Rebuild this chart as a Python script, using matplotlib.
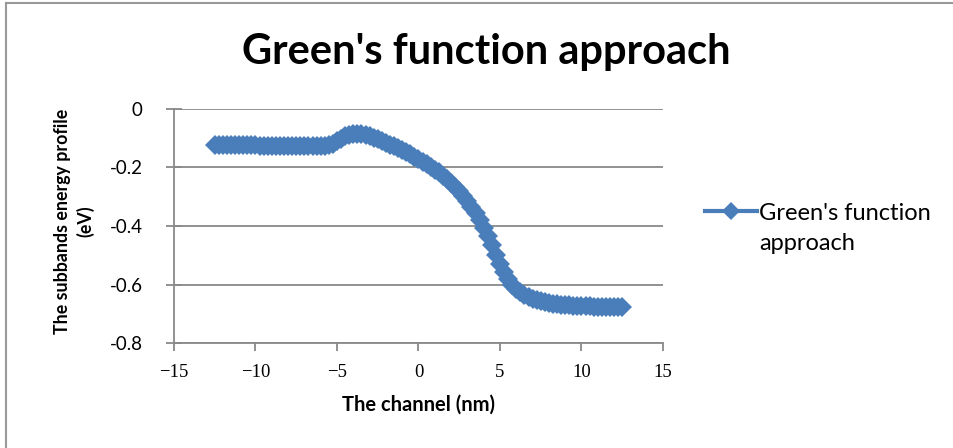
import matplotlib
matplotlib.use("Agg")
import matplotlib.pyplot as plt
import numpy as np
from matplotlib.lines import Line2D

# subband energy profile along the channel (eV), uniform 0.25 nm grid from -12.5 to 12.5 nm
energy_ev = [
    -0.123, -0.123, -0.123, -0.123, -0.124, -0.124, -0.124, -0.124, -0.124, -0.124,
    -0.124, -0.125, -0.125, -0.125, -0.125, -0.125, -0.126, -0.126, -0.126, -0.126,
    -0.127, -0.127, -0.127, -0.128, -0.128, -0.128, -0.128, -0.127, -0.124, -0.118,
    -0.110, -0.101, -0.094, -0.089, -0.087, -0.086, -0.087, -0.090, -0.094, -0.099,
    -0.104, -0.110, -0.116, -0.122, -0.128, -0.134, -0.141, -0.148, -0.155, -0.163,
    -0.172, -0.180, -0.189, -0.198, -0.207, -0.217, -0.228, -0.240, -0.253, -0.266,
    -0.281, -0.297, -0.315, -0.334, -0.356, -0.380, -0.406, -0.433, -0.466, -0.500,
    -0.530, -0.558, -0.582, -0.601, -0.616, -0.627, -0.636, -0.643, -0.649, -0.653,
    -0.657, -0.660, -0.663, -0.665, -0.667, -0.669, -0.670, -0.671, -0.672, -0.673,
    -0.674, -0.675, -0.675, -0.676, -0.676, -0.677, -0.677, -0.677, -0.678, -0.678,
    -0.678,
]
channel_nm = np.linspace(-12.5, 12.5, len(energy_ev))

x_ticks = [-15, -10, -5, 0, 5, 10, 15]
y_ticks = [0, -0.2, -0.4, -0.6, -0.8]
y_tick_labels = ["0", "-0.2", "-0.4", "-0.6", "-0.8"]

series_name = "Green's function approach"
blue = "#4a7ebb"
gray = "#898989"
sans = ["Lato", "DejaVu Sans"]

fig = plt.figure(figsize=(9.54, 4.48), dpi=100)
ax = fig.add_axes([174 / 954, 1 - 343 / 448, (663 - 174) / 954, (343 - 109) / 448])

ax.plot(channel_nm, energy_ev, color=blue, lw=3, marker="D", ms=10,
        markeredgewidth=0, solid_joinstyle="round", zorder=3)

ax.set_xlim(-15, 15)
ax.set_ylim(-0.8, 0)
ax.set_xticks(x_ticks)
ax.set_xticklabels(["\u2212" + str(-t) if t < 0 else str(t) for t in x_ticks],
                   family=["Liberation Serif"], fontsize=13.5)
ax.set_yticks(y_ticks)
ax.set_yticklabels(y_tick_labels, family=sans, fontsize=13.5)

for side in ("top", "right"):
    ax.spines[side].set_visible(False)
for side in ("left", "bottom"):
    ax.spines[side].set_color(gray)
    ax.spines[side].set_linewidth(1.3)
ax.yaxis.grid(True, color=gray, lw=1.3)
ax.set_axisbelow(True)
ax.tick_params(axis="x", direction="out", length=6, width=1.3, color=gray, pad=9)
ax.tick_params(axis="y", direction="inout", length=11, width=1.3, color=gray, pad=17)

ax.set_xlabel("The channel (nm)", family=sans, fontsize=14.5, fontweight="bold", labelpad=10)
ax.set_ylabel("The subbands energy profile\n(eV)", family=sans, fontsize=12.8,
              fontweight="bold", linespacing=1.35, va="center")
ax.yaxis.set_label_coords((74 - 174) / 489, (343 - 221) / 234)

fig.text(486 / 954, 1 - 52 / 448, series_name, family=sans, fontsize=30,
         fontweight="bold", ha="center", va="center")

# legend: handle beside the first line of the series name
leg = ax.legend([Line2D([], [], color=blue, lw=3, marker="D", ms=9.5, markeredgewidth=0)],
                ["Green's function"], loc="center left",
                bbox_to_anchor=(693 / 954, 1 - 213 / 448), bbox_transform=fig.transFigure,
                frameon=False, handlelength=2.2, handletextpad=0.1, borderpad=0,
                prop={"family": sans, "size": 17})
fig.canvas.draw()
t_box = leg.get_texts()[0].get_window_extent()
fig.text(t_box.x0 / 954, 1 - 243 / 448, "approach", family=sans, fontsize=17,
         ha="left", va="center")

# chart area frame
fig.add_artist(Line2D([6 / 954, 6 / 954], [0, 1 - 3 / 448], color="#999999", lw=1.5))
fig.add_artist(Line2D([6 / 954, 1], [1 - 3 / 448, 1 - 3 / 448], color="#999999", lw=1.5))

fig.savefig("out.png", dpi=100)
